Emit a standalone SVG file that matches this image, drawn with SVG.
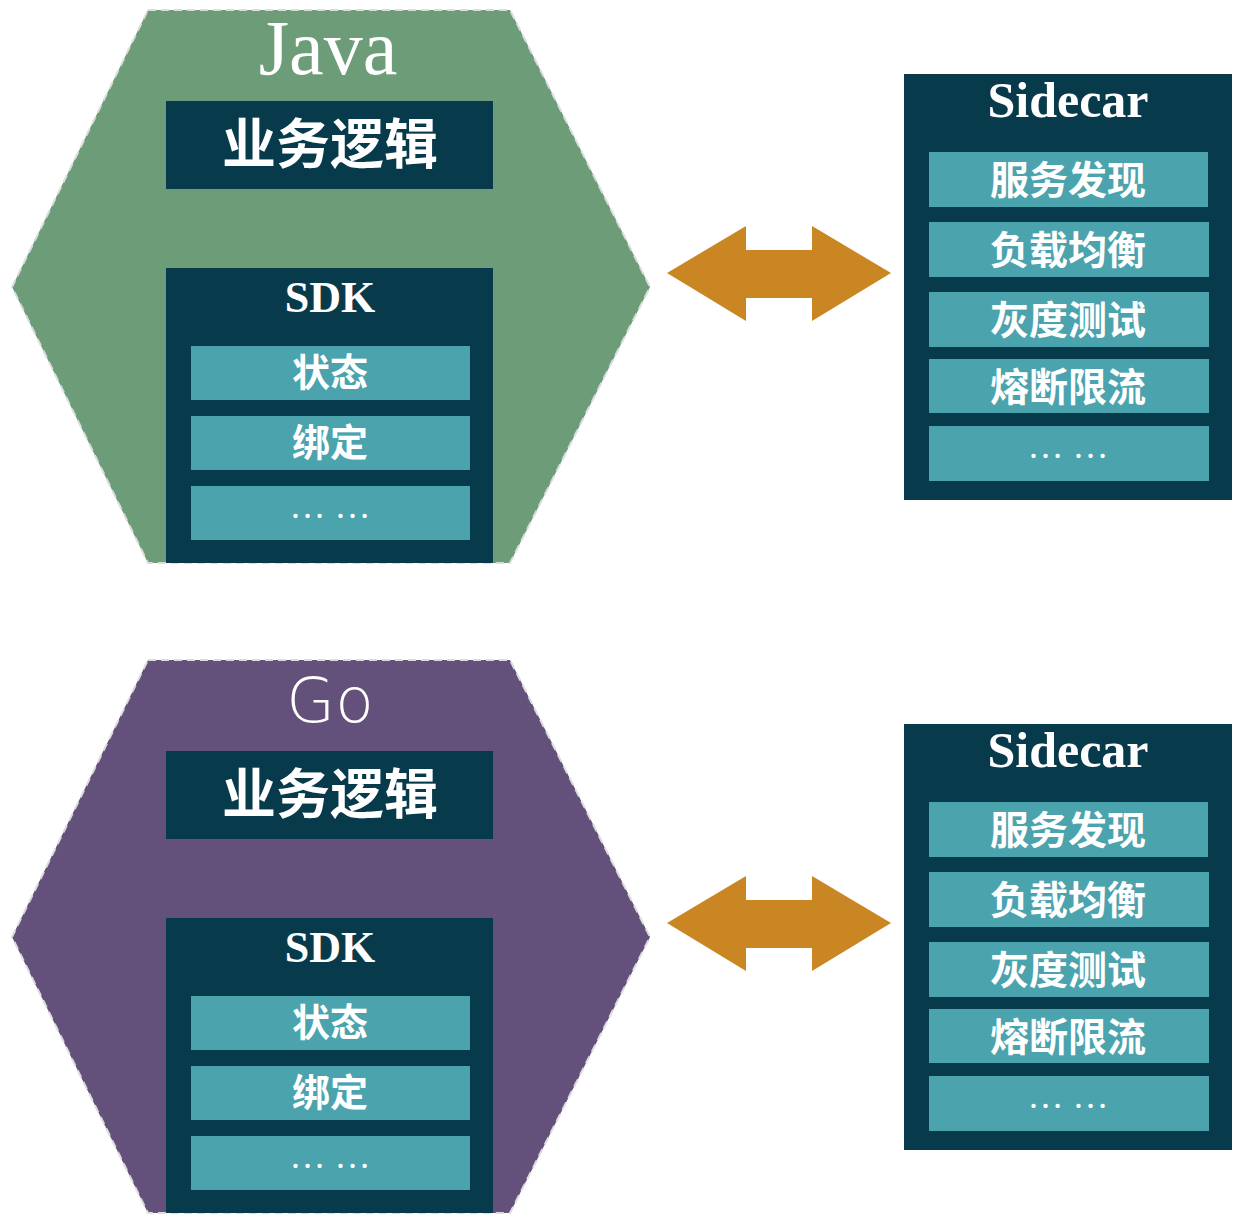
<svg xmlns="http://www.w3.org/2000/svg" width="1244" height="1228" viewBox="0 0 1244 1228">
<style>
.hex{stroke:#dcdcdc;stroke-width:2;stroke-dasharray:8 5}
.dark{fill:#073b4c}
.item{fill:#4ba3ae}
.arrow{fill:#ca8623}
text{fill:#ffffff;text-anchor:middle}
.ser{font-family:"Liberation Serif","DejaVu Serif",serif}
.b{font-weight:bold}
.cjk{font-family:"Noto Sans CJK SC",sans-serif;font-weight:bold}
.go{font-family:"DejaVu Sans","Open Sans",sans-serif;font-weight:300}
</style>
<rect width="1244" height="1228" fill="#ffffff"/>
<g id="java">
<polygon class="hex" fill="#6c9d78" points="148,10 510,10 650,287 510,563 148,563 12,287"/>
<text class="ser" x="328" y="74" font-size="78">Java</text>
</g>
<g id="java-logic">
<rect class="dark" x="166" y="101" width="327" height="88"/>
<text class="cjk" x="330" y="164" font-size="54">业务逻辑</text>
</g>
<g id="java-sdk">
<rect class="dark" x="166" y="268" width="327" height="295"/>
<text class="ser b" x="330" y="312" font-size="44">SDK</text>
<rect class="item" x="191" y="346" width="279" height="54"/>
<text class="cjk" x="330" y="386" font-size="38">状态</text>
<rect class="item" x="191" y="416" width="279" height="54"/>
<text class="cjk" x="330" y="456" font-size="38">绑定</text>
<rect class="item" x="191" y="486" width="279" height="54"/>
<text class="ser" x="330" y="518" font-size="36">… …</text>
</g>
<g id="sidecar1">
<rect class="dark" x="904" y="74" width="328" height="426"/>
<text class="ser b" x="1068" y="117" font-size="50">Sidecar</text>
<rect class="item" x="929" y="152" width="279" height="55"/>
<text class="cjk" x="1068" y="194" font-size="39">服务发现</text>
<rect class="item" x="929" y="222" width="280" height="55"/>
<text class="cjk" x="1068" y="264" font-size="39">负载均衡</text>
<rect class="item" x="929" y="292" width="280" height="55"/>
<text class="cjk" x="1068" y="334" font-size="39">灰度测试</text>
<rect class="item" x="929" y="359" width="280" height="54"/>
<text class="cjk" x="1068" y="401" font-size="39">熔断限流</text>
<rect class="item" x="929" y="426" width="280" height="55"/>
<text class="ser" x="1068" y="458" font-size="36">… …</text>
</g>
<g id="go">
<polygon class="hex" fill="#63517b" points="148,660 510,660 650,937 510,1213 148,1213 12,937"/>
<text class="go" x="330" y="722" font-size="63">Go</text>
</g>
<g id="go-logic">
<rect class="dark" x="166" y="751" width="327" height="88"/>
<text class="cjk" x="330" y="814" font-size="54">业务逻辑</text>
</g>
<g id="go-sdk">
<rect class="dark" x="166" y="918" width="327" height="295"/>
<text class="ser b" x="330" y="962" font-size="44">SDK</text>
<rect class="item" x="191" y="996" width="279" height="54"/>
<text class="cjk" x="330" y="1036" font-size="38">状态</text>
<rect class="item" x="191" y="1066" width="279" height="54"/>
<text class="cjk" x="330" y="1106" font-size="38">绑定</text>
<rect class="item" x="191" y="1136" width="279" height="54"/>
<text class="ser" x="330" y="1168" font-size="36">… …</text>
</g>
<g id="sidecar2">
<rect class="dark" x="904" y="724" width="328" height="426"/>
<text class="ser b" x="1068" y="767" font-size="50">Sidecar</text>
<rect class="item" x="929" y="802" width="279" height="55"/>
<text class="cjk" x="1068" y="844" font-size="39">服务发现</text>
<rect class="item" x="929" y="872" width="280" height="55"/>
<text class="cjk" x="1068" y="914" font-size="39">负载均衡</text>
<rect class="item" x="929" y="942" width="280" height="55"/>
<text class="cjk" x="1068" y="984" font-size="39">灰度测试</text>
<rect class="item" x="929" y="1009" width="280" height="54"/>
<text class="cjk" x="1068" y="1051" font-size="39">熔断限流</text>
<rect class="item" x="929" y="1076" width="280" height="55"/>
<text class="ser" x="1068" y="1108" font-size="36">… …</text>
</g>
<g id="connectors">
<polygon class="arrow" points="667,273 746,226 746,250 812,250 812,226 891,273 812,321 812,298 746,298 746,321"/>
<polygon class="arrow" points="667,923 746,876 746,900 812,900 812,876 891,923 812,971 812,948 746,948 746,971"/>
</g>
</svg>
